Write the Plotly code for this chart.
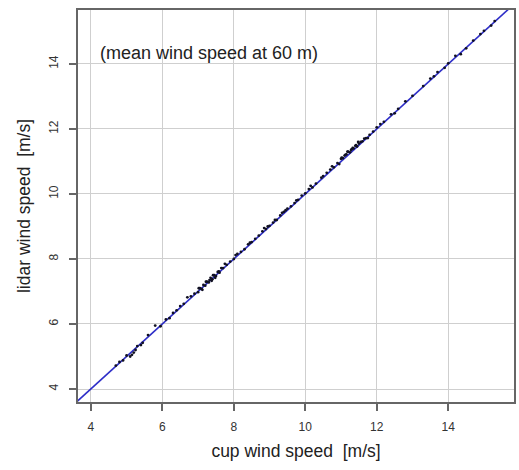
import plotly.graph_objects as go

cup_speed = [4.7, 4.8, 4.9, 5.0, 5.1, 5.2, 5.25, 5.3, 5.6, 5.8, 5.95, 6.2, 6.3, 6.4,
             6.5, 6.6, 6.8, 6.9, 7.0, 7.05, 7.1, 7.15, 7.2, 7.25, 7.3, 7.35, 7.4,
             7.45, 7.5, 7.55, 7.6, 7.7, 7.8, 7.9, 8.0, 8.1, 8.2, 8.3, 8.4, 8.5, 8.6,
             8.7, 8.8, 8.9, 9.0, 9.1, 9.2, 9.3, 9.4, 9.5, 9.6, 9.7, 9.8, 9.9, 10.0,
             10.1, 10.2, 10.3, 10.5, 10.6, 10.7, 10.8, 10.9, 11.0, 11.05, 11.1, 11.15,
             11.2, 11.25, 11.3, 11.35, 11.4, 11.45, 11.5, 11.6, 11.7, 11.8, 11.9, 12.0,
             12.2, 12.4, 12.6, 12.8, 13.0, 13.3, 13.6, 13.9, 14.0, 14.2, 14.5, 14.7,
             14.9, 15.0, 15.2, 15.3,
             7.12, 7.22, 7.32, 7.42, 7.48, 7.58, 8.85, 9.15, 9.45, 10.15, 10.95, 11.12,
             11.28, 11.42, 11.55, 11.75, 6.1, 5.45, 12.5, 13.5,
             7.02, 7.38, 7.65, 8.05, 8.45, 8.95, 9.35, 9.75, 10.45, 10.75, 11.02,
             11.18, 11.33, 11.48, 11.65, 12.1, 13.7, 14.35, 5.15, 5.4, 6.7, 7.75]
lidar_speed = [4.72, 4.83, 4.88, 5.03, 5.0, 5.12, 5.2, 5.32, 5.66, 5.95, 5.93, 6.18,
               6.34, 6.42, 6.55, 6.62, 6.85, 6.93, 6.98, 7.1, 7.08, 7.2, 7.18, 7.3,
               7.28, 7.42, 7.38, 7.5, 7.48, 7.6, 7.58, 7.72, 7.82, 7.92, 8.0, 8.16,
               8.22, 8.3, 8.45, 8.52, 8.62, 8.72, 8.85, 8.92, 9.02, 9.12, 9.2, 9.34,
               9.45, 9.55, 9.62, 9.72, 9.82, 9.95, 10.02, 10.15, 10.2, 10.32, 10.55,
               10.65, 10.75, 10.82, 10.95, 11.08, 11.1, 11.18, 11.22, 11.3, 11.28,
               11.38, 11.4, 11.48, 11.46, 11.55, 11.62, 11.72, 11.82, 11.92, 12.05,
               12.22, 12.45, 12.62, 12.85, 13.02, 13.32, 13.62, 13.88, 14.02, 14.25,
               14.48, 14.72, 14.92, 15.02, 15.18, 15.32,
               7.05, 7.3, 7.35, 7.5, 7.42, 7.62, 8.95, 9.2, 9.5, 10.25, 10.92, 11.2,
               11.35, 11.5, 11.6, 11.72, 6.14, 5.42, 12.48, 13.55,
               7.1, 7.33, 7.72, 8.12, 8.5, 9.0, 9.42, 9.8, 10.5, 10.85, 11.12,
               11.3, 11.42, 11.6, 11.7, 12.15, 13.75, 14.3, 5.05, 5.35, 6.82, 7.85]
ref_line = [3.0, 16.5]

fig = go.Figure()
fig.add_trace(go.Scatter(x=ref_line, y=ref_line, mode="lines",
                         line=dict(color="#2e2ec8", width=1.6), hoverinfo="skip"))
fig.add_trace(go.Scatter(x=cup_speed, y=lidar_speed, mode="markers",
                         marker=dict(color="#111122", size=2.8)))

axis_common = dict(
    showgrid=True, gridcolor="#cfcfcf", gridwidth=1,
    showline=True, linecolor="#666666", linewidth=1.5, mirror=True,
    ticks="outside", ticklen=7, tickcolor="#666666", tickwidth=1.5,
    ticklabelstandoff=6,
    tickvals=[4, 6, 8, 10, 12, 14], zeroline=False,
    tickfont=dict(family="Liberation Sans, Arial", size=12, color="#333333"),
)

fig.update_layout(
    width=519, height=470,
    margin=dict(l=78, r=3, t=10, b=68),
    paper_bgcolor="white", plot_bgcolor="white",
    showlegend=False,
    font=dict(family="Liberation Sans, Arial", color="#222222"),
    xaxis=dict(range=[3.64, 15.84],
               title=dict(text="cup wind speed  [m/s]", font=dict(size=17.5), standoff=12),
               **axis_common),
    yaxis=dict(range=[3.6, 15.66], tickangle=-90,
               title=dict(text="lidar wind speed  [m/s]", font=dict(size=17.5), standoff=12),
               **axis_common),
    annotations=[dict(text="(mean wind speed at 60 m)", xref="paper", yref="paper",
                      x=0.045, y=0.89, xanchor="left", yanchor="middle",
                      showarrow=False, font=dict(size=18, color="#222222"))],
)

fig.write_html("out.html")
